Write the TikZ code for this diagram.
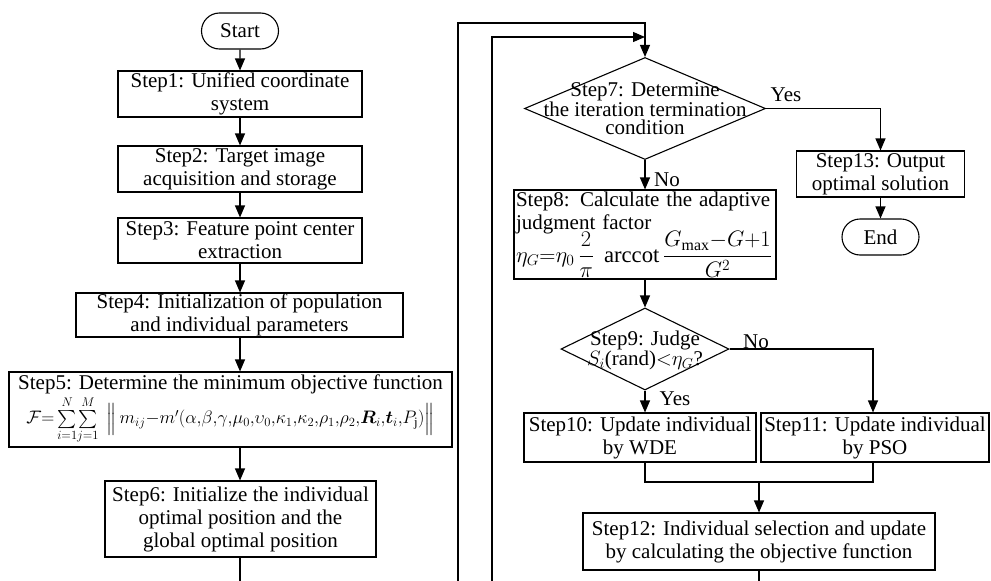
\documentclass[tikz,border=0pt]{standalone}
\usepackage{fontspec}
\setmainfont{Liberation Serif}
\usepackage{amsmath,bm}
\usepackage{graphicx}
\usetikzlibrary{arrows.meta,shapes.geometric,shapes.misc}

\begin{document}
\begin{tikzpicture}[x=1pt,y=-1pt,
  font=\fontsize{21}{23}\selectfont, line width=1.1pt,
  box/.style={draw, rectangle, inner sep=0pt, align=center},
  term/.style={draw, rounded rectangle, inner sep=0pt, minimum width=77pt, minimum height=36pt},
  dec/.style={draw, diamond, inner sep=0pt},
  dectext/.style={inner sep=0pt, align=center, font=\fontsize{21}{18}\selectfont},
  arr/.style={-{Triangle[length=12pt,width=10pt]}},
  lbl/.style={inner sep=0pt}]
\useasboundingbox (0,0) rectangle (991,581);

% ---- left column: set-up steps ----
\node[term] (start) at (240,31) {Start};
\node[box, minimum width=244pt, minimum height=46pt] (s1) at (240,94)
  {Step1: Unified coordinate\\system};
\node[box, minimum width=244pt, minimum height=46pt] (s2) at (240,169)
  {Step2: Target image\\acquisition and storage};
\node[box, minimum width=244pt, minimum height=45pt] (s3) at (240,240.5)
  {Step3: Feature point center\\extraction};
\node[box, minimum width=327pt, minimum height=44pt] (s4) at (239.5,315)
  {Step4: Initialization of population\\and individual parameters};
\node[box, minimum width=443pt, minimum height=75pt] (s5) at (230.5,409.5)
  {Step5: Determine the minimum objective function\\[1pt]
   \resizebox{408pt}{!}{$\textstyle \mathcal{F}{=}\sum\limits_{i=1}^{N}\!\sum\limits_{j=1}^{M}\;\Big\|\, m_{ij}{-}m'(\alpha{,}\beta{,}\gamma{,}\mu_0{,}\upsilon_0{,}\kappa_1{,}\kappa_2{,}\rho_1{,}\rho_2{,}\bm{R}_i{,}\bm{t}_i{,}P_{\mathrm{j}})\Big\|$}};
\node[box, minimum width=271pt, minimum height=76pt] (s6) at (240.5,519)
  {Step6: Initialize the individual\\optimal position and the\\global optimal position};

\coordinate (b1) at (240,581);
\coordinate (lp1) at (458,581);
\coordinate (lp2) at (492,581);

% ---- right column: iteration ----
\node[dec, minimum width=241pt, minimum height=102pt] (d7) at (645,108.5) {};
\node[dectext] (t7) at (645,109) {Step7: Determine\\the iteration termination\\condition};
\coordinate (top1) at (645,23);
\coordinate (top2) at (645,37);

\node[box, minimum width=168pt, minimum height=46pt] (s13) at (880.5,174)
  {Step13: Output\\optimal solution};
\node[term] (end) at (880.5,237) {End};

\node[draw, rectangle, inner xsep=2pt, inner ysep=0pt, text width=258pt, align=left,
      minimum height=89pt] (s8) at (645,234.5)
  {Step8: Calculate the adaptive\\judgment factor\\[-3pt]
   \resizebox{256pt}{!}{$\eta_G{=}\eta_0\,\dfrac{2}{\pi}\;\operatorname{arccot}\dfrac{G_{\max}{-}G{+}1}{G^2}$}};

\node[dec, minimum width=168pt, minimum height=82pt] (d9) at (645,349) {};
\node[dectext, font=\fontsize{21}{19}\selectfont] (t9) at (645,350)
  {Step9: Judge\\$S_i$(rand)${<}\eta_G$?};

\node[box, minimum width=232pt, minimum height=49pt] (s10) at (640,437.5)
  {Step10: Update individual\\by WDE};
\node[box, minimum width=228pt, minimum height=49pt] (s11) at (875,437.5)
  {Step11: Update individual\\by PSO};
\node[box, minimum width=352pt, minimum height=57pt] (s12) at (759,541.5)
  {Step12: Individual selection and update\\by calculating the objective function};
\coordinate (mg) at (759,482);
\coordinate (b2) at (759,581);

% ---- connectors ----
\draw[arr] (start) -- (s1);
\draw[arr] (s1) -- (s2);
\draw[arr] (s2) -- (s3);
\draw[arr] (s3) -- (s4.north -| s3.south);
\draw[arr] (s4.south -| s3.south) -- (s5.north -| s3.south);
\draw[arr] (s5.south -| s3.south) -- (s6.north -| s3.south);
\draw (s6.south -| b1) -- (b1);

\draw[arr] (lp1) |- (top1) -- (d7.north);
\draw[arr] (lp2) |- (top2);

\draw[arr] (d7.east) -| (s13.north);
\draw[arr] (s13) -- (end);
\draw[arr] (d7.south) -- (s8.north);
\draw[arr] (s8.south) -- (d9.north);
\draw[arr] (d9.east) -| (s11.north -| 873,0);
\draw[arr] (d9.south) -- (s10.north -| d9.south);
\draw (s10.south -| d9.south) |- (mg) -| (s11.south -| 873,0);
\draw[arr] (mg) -- (s12.north -| mg);
\draw (s12.south -| b2) -- (b2);

% ---- branch labels ----
\node[lbl] (y7) at (786,95) {Yes};
\node[lbl] (n7) at (667,180) {No};
\node[lbl] (n9) at (756,342) {No};
\node[lbl] (y9) at (675,399) {Yes};
\end{tikzpicture}
\end{document}
